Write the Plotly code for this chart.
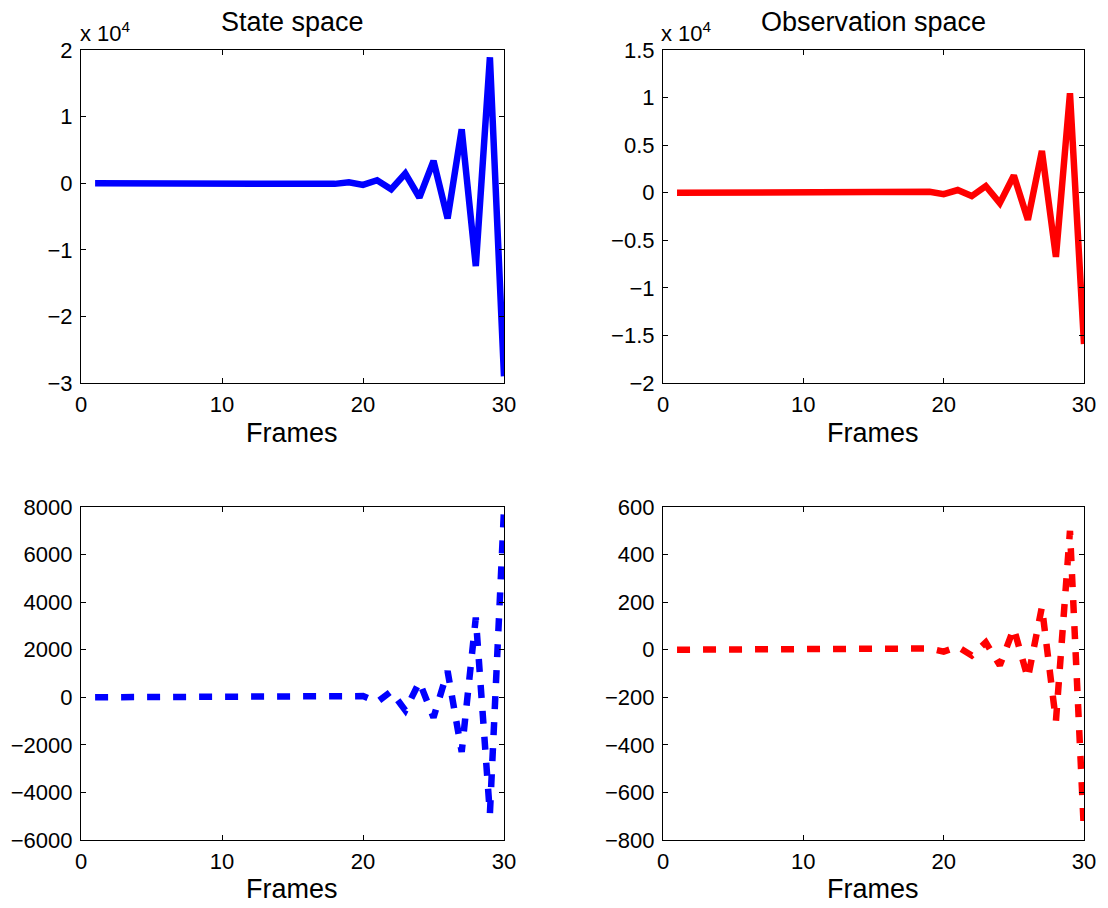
import plotly.graph_objects as go

# ---------------- data ----------------
frames = [1, 2, 3, 4, 5, 6, 7, 8, 9, 10, 11, 12, 13, 14, 15,
          16, 17, 18, 19, 20, 21, 22, 23, 24, 25, 26, 27, 28, 29, 30]

state_top = [0, 0, 0, 0, 0, 0, 0, 0, 0, 0, 0, 0, 0, 5, 30,
             -40, 70, -100, 150, -250, 450, -900, 1450, -2150, 3350, -5300, 8100, -12450, 18900, -29000]

obs_top = [0, 0, 0, 0, 0, 0, 0, 0, 0, 0, 0, 0, 0, 5, 15,
           -25, 40, -60, 100, -150, 280, -350, 700, -1100, 1800, -2850, 4400, -6750, 10450, -15900]

state_bottom = [0, 0, 0, 0, 0, 0, 0, 0, 0, 0, 0, 0, 0, 0, 0,
                0, 0, 0, 0, 50, -200, 250, -550, 650, -850, 1100, -2300, 3350, -4900, 7900]

obs_bottom = [0, 0, 0, 0, 0, 0, 0, 0, 0, 0, 0, 0, 0, 0, 0,
              0, 0, 0, 5, -8, 12, -24, 31, -66, 90, -120, 180, -300, 500, -770]

x_ticks = [0, 10, 20, 30]

tl_vals = [-30000, -20000, -10000, 0, 10000, 20000]
tl_text = ["\u22123", "\u22122", "\u22121", "0", "1", "2"]

tr_vals = [-20000, -15000, -10000, -5000, 0, 5000, 10000, 15000]
tr_text = ["\u22122", "\u22121.5", "\u22121", "\u22120.5", "0", "0.5", "1", "1.5"]

bl_vals = [-6000, -4000, -2000, 0, 2000, 4000, 6000, 8000]
br_vals = [-800, -600, -400, -200, 0, 200, 400, 600]

titles = ["State space", "Observation space"]
x_label = "Frames"

# ---------------- figure ----------------
W, H = 1108, 908
FONT = "Liberation Sans, Arial, Helvetica, sans-serif"
TICKF = 22
BIGF = 27

fig = go.Figure()

def px_x(p):
    return p / W

def px_y(p):
    return 1 - p / H

panels = [
    dict(y=state_top, color="#0000ff", dash="solid", xa="x", ya="y",
         xd=[81, 504], yd=[50, 383], yr=[-30000, 20000], tv=tl_vals, tt=tl_text),
    dict(y=obs_top, color="#ff0000", dash="solid", xa="x2", ya="y2",
         xd=[663, 1084], yd=[50, 383], yr=[-20000, 15000], tv=tr_vals, tt=tr_text),
    dict(y=state_bottom, color="#0000ff", dash="13px,13px", xa="x3", ya="y3",
         xd=[81, 504], yd=[507, 840], yr=[-6000, 8000], tv=bl_vals,
         tt=[str(v).replace("-", "\u2212") for v in bl_vals]),
    dict(y=obs_bottom, color="#ff0000", dash="13px,13px", xa="x4", ya="y4",
         xd=[663, 1084], yd=[507, 840], yr=[-800, 600], tv=br_vals,
         tt=[str(v).replace("-", "\u2212") for v in br_vals]),
]

layout_axes = {}
for i, p in enumerate(panels):
    fig.add_trace(go.Scatter(
        x=frames, y=p["y"], mode="lines",
        line=dict(color=p["color"], width=6.5, dash=p["dash"]),
        xaxis=p["xa"], yaxis=p["ya"], showlegend=False, hoverinfo="skip",
    ))
    n = "" if i == 0 else str(i + 1)
    common = dict(showline=True, linecolor="black", linewidth=1.2, mirror="ticks",
                  ticks="inside", ticklen=5, tickwidth=1, tickcolor="black",
                  showgrid=False, zeroline=False, automargin=False,
                  tickfont=dict(family=FONT, size=TICKF, color="black"))
    layout_axes["xaxis" + n] = dict(
        domain=[px_x(p["xd"][0]), px_x(p["xd"][1])], range=[0, 30],
        tickvals=x_ticks, ticktext=[str(v) for v in x_ticks],
        anchor="y" + n, ticklabelstandoff=1, **common)
    layout_axes["yaxis" + n] = dict(
        domain=[px_y(p["yd"][1]), px_y(p["yd"][0])], range=p["yr"],
        tickvals=p["tv"], ticktext=p["tt"],
        anchor="x" + n, ticklabelstandoff=3, **common)

def ann(text, x, y, size, xanchor="center"):
    return dict(text=text, x=px_x(x), y=px_y(y), xref="paper", yref="paper",
                showarrow=False, font=dict(family=FONT, size=size, color="black"),
                xanchor=xanchor, yanchor="middle")

annotations = [
    ann(titles[0], 292, 22, BIGF),
    ann(titles[1], 873, 22, BIGF),
    ann("x 10<sup>4</sup>", 78, 32, TICKF, "left"),
    ann("x 10<sup>4</sup>", 659, 32, TICKF, "left"),
    ann(x_label, 292, 433, BIGF),
    ann(x_label, 873, 433, BIGF),
    ann(x_label, 292, 889, BIGF),
    ann(x_label, 873, 889, BIGF),
]

fig.update_layout(
    width=W, height=H, autosize=False,
    margin=dict(l=0, r=0, t=0, b=0, pad=0),
    paper_bgcolor="white", plot_bgcolor="white",
    font=dict(family=FONT, color="black"),
    annotations=annotations,
    **layout_axes,
)

fig.write_html("out.html", include_plotlyjs=True, config={"displayModeBar": False})
